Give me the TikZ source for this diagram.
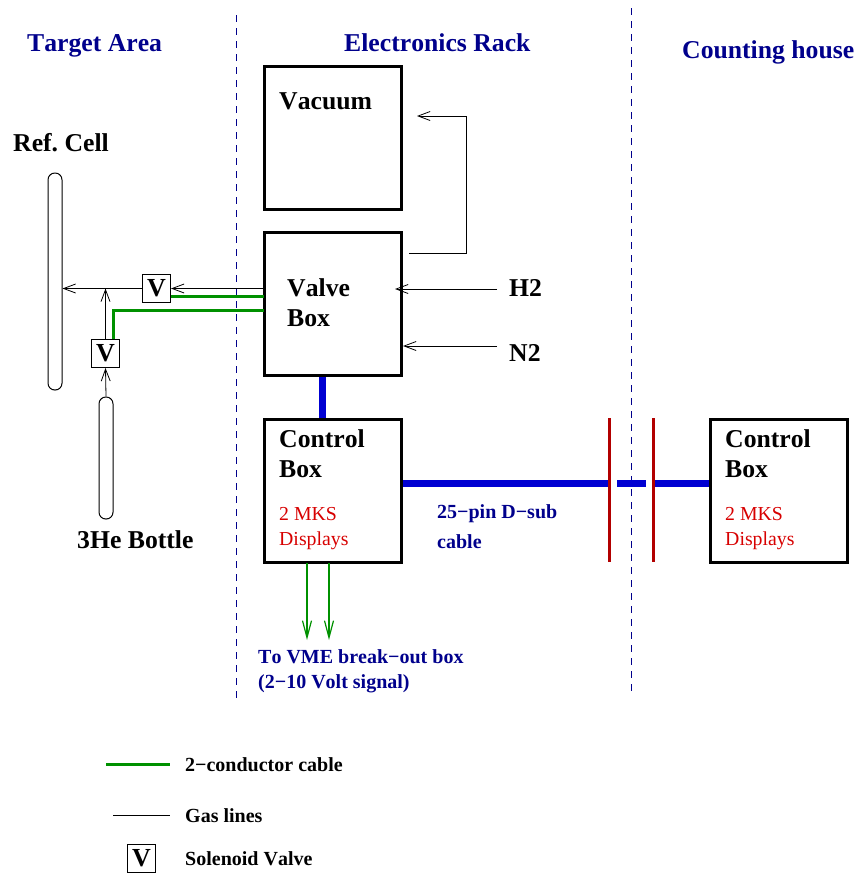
\documentclass[tikz,border=0pt]{standalone}
\usepackage{fontspec}
\setmainfont[Kerning=Off]{Liberation Serif}
\usetikzlibrary{arrows.meta}
\definecolor{navytxt}{RGB}{0,0,140}
\definecolor{dash}{RGB}{0,0,140}
\definecolor{cablegreen}{RGB}{0,145,0}
\definecolor{cableblue}{RGB}{0,0,210}
\definecolor{darkred}{RGB}{178,0,0}
\definecolor{redtxt}{RGB}{215,0,0}
\tikzset{
  lbl/.style={anchor=base west,inner sep=0pt,font=\fontsize{25.7}{28}\selectfont\bfseries\frenchspacing},
  head/.style={lbl,text=navytxt},
  small/.style={lbl,font=\fontsize{20}{22}\selectfont\bfseries},
  note/.style={small,text=navytxt},
  disp/.style={anchor=base west,inner sep=0pt,text=redtxt,font=\fontsize{19.8}{22}\selectfont},
  bigbox/.style={draw,line width=3pt,minimum width=137pt,minimum height=143pt,inner sep=0pt},
  valve/.style={draw,line width=1pt,minimum size=28pt,inner sep=0pt,font=\fontsize{26}{27}\selectfont\bfseries},
  tube/.style={draw,line width=1pt,rounded corners=6.8pt,minimum width=14pt,inner sep=0pt},
  divider/.style={draw=dash,line width=1pt,dash pattern=on 7pt off 6pt},
  gas/.style={line width=.8pt,-{Straight Barb[length=12pt,width=9pt,line width=.8pt]}},
  gasplain/.style={line width=.8pt},
  gcable/.style={cablegreen,line width=3pt},
  sig/.style={cablegreen,line width=2pt,-{Straight Barb[length=17pt,width=9pt,line width=1.2pt]}},
  bcable/.style={cableblue,line width=7pt},
  conn/.style={darkred,line width=3pt},
}
\begin{document}
\begin{tikzpicture}[x=1pt,y=-1pt]
\useasboundingbox (0,0) rectangle (860,873);
% dividers
\coordinate (d1a) at (236,15); \coordinate (d1b) at (236,700);
\coordinate (d2a) at (631,8); \coordinate (d2b) at (631,695);
\draw[divider] (d1a) -- (d1b);
\draw[divider] (d2a) -- (d2b);
% headings
\node[head] (hTA) at (27,51) {Target Area};
\node[head] (hER) at (344,51) {Electronics Rack};
\node[head] (hCH) at (682,58) {Counting house};
% main boxes
\node[bigbox] (vac) at (333,138) {};
\node[bigbox] (vbox) at (333,304) {};
\node[bigbox] (cbox) at (333,491) {};
\node[bigbox] (rbox) at (779,491) {};
\node[lbl] (tVac) at (279,109) {Vacuum};
\node[lbl] (tV1) at (287,296) {Valve};
\node[lbl] (tV2) at (287,326) {Box};
\node[lbl] (tC1) at (279,447) {Control};
\node[lbl] (tC2) at (279,477) {Box};
\node[disp] (tC3) at (279,520) {2 MKS};
\node[disp] (tC4) at (279,545) {Displays};
\node[lbl] (tR1) at (725,447) {Control};
\node[lbl] (tR2) at (725,477) {Box};
\node[disp] (tR3) at (725,520) {2 MKS};
\node[disp] (tR4) at (725,545) {Displays};
% target area
\node[lbl] (tRef) at (13,151) {Ref. Cell};
\node[tube,minimum height=217pt] (ref) at (55,281.5) {};
\node[tube,minimum height=122pt] (bot) at (106,458) {};
\node[lbl] (tBot) at (77,548) {3He Bottle};
\node[valve] (v1) at (156.5,288.5) {V};
\node[valve] (v2) at (105.5,353.5) {V};
% gas lines
\coordinate (j) at (v2.north |- v1.west);
\draw[gas] (vbox.west |- v1.east) -- (v1.east);
\draw[gas] (v1.west) -- (ref.east |- v1.west);
\draw[gas] (v2.north) -- (j);
\draw[gas] (bot.north) -- (v2.south);
% green cables
\coordinate (g1) at (264,296);
\coordinate (g2) at (264,310);
\coordinate (g3) at (113,310);
\draw[gcable] (g1) -- (g1 -| v1.east);
\draw[gcable] (g2) -- (g3) -- (g3 |- v2.north);
% blue cables
\coordinate (b1) at (609,483);
\coordinate (b2) at (617,483);
\coordinate (b3) at (646,483);
\coordinate (b4) at (653,483);
\draw[bcable] (vbox.south) ++(-11,0) -- (cbox.north -| 322,0);
\draw[bcable] (cbox.east |- b1) -- (b1);
\draw[bcable] (b2) -- (b3);
\draw[bcable] (b4) -- (rbox.west |- b4);
\coordinate (c1a) at (609,418); \coordinate (c1b) at (609,562);
\coordinate (c2a) at (653,418); \coordinate (c2b) at (653,562);
\draw[conn] (c1a) -- (c1b);
\draw[conn] (c2a) -- (c2b);
% vacuum loop
\coordinate (l1) at (409,253);
\coordinate (l2) at (466,253);
\coordinate (l3) at (466,116);
\coordinate (l4) at (417,116);
\draw[gas] (l1) -- (l2) -- (l3) -- (l4);
% H2, N2
\node[lbl] (H2) at (509,296) {H2};
\node[lbl] (N2) at (509,361) {N2};
\coordinate (h1) at (497,289); \coordinate (h2) at (395,289);
\coordinate (n1) at (497,346);
\draw[gas] (h1) -- (h2);
\draw[gas] (n1) -- (vbox.east |- n1);
% signal
\coordinate (s1) at (307,563); \coordinate (s2) at (307,640);
\coordinate (s3) at (329,563); \coordinate (s4) at (329,640);
\draw[sig] (s1) -- (s2);
\draw[sig] (s3) -- (s4);
\node[note] (n25) at (437,518) {25−pin D−sub};
\node[note] (ncab) at (437,548) {cable};
\node[note] (nvme) at (258,663) {To VME break−out box};
\node[note] (nsig) at (258,688) {(2−10 Volt signal)};
% legend
\coordinate (lg1) at (106,764); \coordinate (lg2) at (170,764);
\coordinate (lg3) at (113,815); \coordinate (lg4) at (170,815);
\draw[gcable] (lg1) -- (lg2);
\draw[gasplain] (lg3) -- (lg4);
\node[valve] (lv) at (141.5,858.5) {V};
\node[small] (lt1) at (185,771) {2−conductor cable};
\node[small] (lt2) at (185,822) {Gas lines};
\node[small] (lt3) at (185,865) {Solenoid Valve};
\end{tikzpicture}
\end{document}
